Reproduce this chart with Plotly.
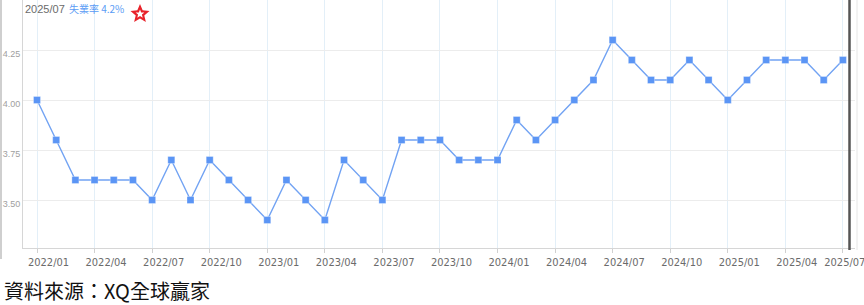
import plotly.graph_objects as go
import math

months = ["2022/01","2022/02","2022/03","2022/04","2022/05","2022/06","2022/07","2022/08","2022/09","2022/10","2022/11","2022/12",
          "2023/01","2023/02","2023/03","2023/04","2023/05","2023/06","2023/07","2023/08","2023/09","2023/10","2023/11","2023/12",
          "2024/01","2024/02","2024/03","2024/04","2024/05","2024/06","2024/07","2024/08","2024/09","2024/10","2024/11","2024/12",
          "2025/01","2025/02","2025/03","2025/04","2025/05","2025/06","2025/07"]
rate = [4.0,3.8,3.6,3.6,3.6,3.6,3.5,3.7,3.5,3.7,3.6,3.5,
        3.4,3.6,3.5,3.4,3.7,3.6,3.5,3.8,3.8,3.8,3.7,3.7,
        3.7,3.9,3.8,3.9,4.0,4.1,4.3,4.2,4.1,4.1,4.2,4.1,
        4.0,4.1,4.2,4.2,4.2,4.1,4.2]
tick_labels = ["2022/01","2022/04","2022/07","2022/10","2023/01","2023/04","2023/07",
               "2023/10","2024/01","2024/04","2024/07","2024/10","2025/01","2025/04","2025/07"]
y_ticks = [3.50, 3.75, 4.00, 4.25]
series_name = "失業率"

W, H = 864, 305
ML, MR, MT, MB = 23, 9, 0, 57
PW, PH = W - ML - MR, H - MT - MB

def px_x(p):  # page pixel -> paper x
    return (p - ML) / PW

def px_y(p):  # page pixel -> paper y
    return (H - MB - p) / PH

x = list(range(len(months)))
tick_pos = [months.index(t) for t in tick_labels]
label_pos = [p + 0.6 for p in tick_pos[:-1]] + [tick_pos[-1] + 0.1]

fig = go.Figure()
fig.add_trace(go.Scatter(
    x=x, y=rate, mode="lines+markers",
    line=dict(color="#72a3f3", width=1.4),
    marker=dict(symbol="square", size=7, color="#5b95f5",
                line=dict(color="rgba(255,255,255,0.5)", width=0.6)),
    hoverinfo="skip", showlegend=False,
))
# invisible trace to anchor second x-axis (labels)
fig.add_trace(go.Scatter(x=[x[0]], y=[rate[0]], xaxis="x2", mode="markers",
                         marker=dict(opacity=0), hoverinfo="skip", showlegend=False))

font_lat = "Liberation Sans Narrow, DejaVu Sans Condensed, Liberation Sans, sans-serif"

fig.update_layout(
    width=W, height=H,
    margin=dict(l=ML, r=MR, t=MT, b=MB),
    paper_bgcolor="white", plot_bgcolor="white",
    xaxis=dict(range=[-0.73, 42.63], tickvals=tick_pos, ticktext=["" for _ in tick_pos],
               showgrid=True, gridcolor="#e3eff8", gridwidth=1,
               showline=True, linecolor="#d6d6d6", linewidth=1,
               ticks="outside", ticklen=4, tickcolor="#d0d0d0", zeroline=False),
    xaxis2=dict(matches="x", overlaying="x", anchor="y", side="bottom",
                tickvals=label_pos, ticktext=tick_labels, showgrid=False, showline=False,
                ticks="outside", ticklen=4, tickcolor="rgba(0,0,0,0)", zeroline=False,
                ticklabeloverflow="allow",
                tickfont=dict(family=font_lat, size=11, color="#6b6b6b")),
    yaxis=dict(range=[3.26, 4.5], tickvals=y_ticks, ticktext=[f"{v:.2f}" for v in y_ticks],
               showgrid=True, gridcolor="#ececec", gridwidth=1,
               showline=True, linecolor="#d6d6d6", linewidth=1,
               ticks="", ticklabelshift=4, zeroline=False, ticklabeloverflow="allow",
               tickfont=dict(family="Liberation Sans, sans-serif", size=9, color="#a0a0a0")),
    font=dict(family=font_lat),
)

# header: last month / last value
fig.add_annotation(xref="paper", yref="paper", x=px_x(23), y=px_y(9), xanchor="left", yanchor="middle",
                   text=months[-1], showarrow=False,
                   font=dict(family="Liberation Sans, sans-serif", size=11, color="#6b6b6b"))
fig.add_annotation(xref="paper", yref="paper", x=px_x(67), y=px_y(9), xanchor="left", yanchor="middle",
                   text=f"{series_name} {rate[-1]:.1f}%", showarrow=False,
                   font=dict(family="Noto Sans CJK TC, Liberation Sans, sans-serif", size=10, color="#5b9cf5"))

def star_path(R, r):
    pts = []
    for i in range(10):
        ang = math.pi / 2 + i * math.pi / 5
        rad = R if i % 2 == 0 else r
        pts.append((rad * math.cos(ang), rad * math.sin(ang)))
    return "M " + " L ".join(f"{a:.2f},{b:.2f}" for a, b in pts) + " Z"

sx, sy = px_x(140), px_y(14)
fig.add_shape(type="path", xref="paper", yref="paper", xsizemode="pixel", ysizemode="pixel",
              xanchor=sx, yanchor=sy, path=star_path(10, 4.5), fillcolor="#e8232b",
              line=dict(width=0))
fig.add_shape(type="path", xref="paper", yref="paper", xsizemode="pixel", ysizemode="pixel",
              xanchor=sx, yanchor=sy, path=star_path(4.6, 2.0), fillcolor="white",
              line=dict(width=0))

# frame lines
fig.add_shape(type="line", xref="paper", yref="paper", x0=px_x(1), x1=px_x(1), y0=px_y(0), y1=px_y(259),
              line=dict(color="#cfcfcf", width=2))
fig.add_shape(type="line", xref="paper", yref="paper", x0=px_x(849.5), x1=px_x(849.5), y0=px_y(0), y1=px_y(250),
              line=dict(color="#555555", width=2.5))
fig.add_shape(type="line", xref="paper", yref="paper", x0=px_x(857), x1=px_x(857), y0=px_y(0), y1=px_y(250),
              line=dict(color="#e6e6e6", width=1))

# source note
fig.add_annotation(xref="paper", yref="paper", x=px_x(2), y=px_y(290), xanchor="left", yanchor="middle",
                   text="資料來源：XQ全球贏家", showarrow=False,
                   font=dict(family="Noto Sans CJK TC", size=20, color="#111111"))

fig.write_html("out.html")
